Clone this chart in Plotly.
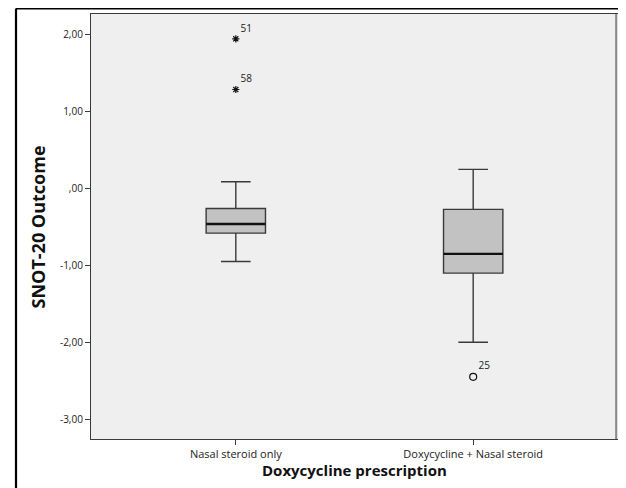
import plotly.graph_objects as go

# ---- data ----
categories = ["Nasal steroid only", "Doxycycline + Nasal steroid"]
q1_vals = [-0.58, -1.10]
median_vals = [-0.46, -0.85]
q3_vals = [-0.26, -0.27]
lower_whisker = [-0.95, -2.00]
upper_whisker = [0.09, 0.25]

extreme_x = ["Nasal steroid only", "Nasal steroid only"]
extreme_y = [1.95, 1.29]
extreme_lbl = ["51", "58"]

outlier_x = ["Doxycycline + Nasal steroid"]
outlier_y = [-2.45]
outlier_lbl = ["25"]

ytick_vals = [2, 1, 0, -1, -2, -3]
ytick_text = ["2,00", "1,00", ",00", "-1,00", "-2,00", "-3,00"]

BOX_FILL = "#c1c2c1"
LINE_COL = "#3a3a3a"
PLOT_BG = "#eeefee"
FONT = "Open Sans"

fig = go.Figure()

# boxes
fig.add_trace(go.Box(
    x=categories, q1=q1_vals, median=median_vals, q3=q3_vals,
    lowerfence=lower_whisker, upperfence=upper_whisker,
    boxpoints=False, width=0.25, whiskerwidth=0.5,
    fillcolor=BOX_FILL, line=dict(color=LINE_COL, width=1.4),
    hoverinfo="skip", showlegend=False,
))
# thicker median line (degenerate box at the median)
fig.add_trace(go.Box(
    x=categories, q1=median_vals, median=median_vals, q3=median_vals,
    lowerfence=median_vals, upperfence=median_vals,
    boxpoints=False, width=0.25, whiskerwidth=0,
    fillcolor="rgba(0,0,0,0)", line=dict(color="#111111", width=2.4),
    hoverinfo="skip", showlegend=False,
))

# extreme values (asterisks)
fig.add_trace(go.Scatter(
    x=extreme_x, y=extreme_y, mode="markers+text", text=extreme_lbl,
    textposition="top right",
    textfont=dict(family=FONT, size=10, color="#222222"),
    marker=dict(symbol="asterisk-open", size=6, color="#111111",
                line=dict(color="#111111", width=1.2)),
    showlegend=False, hoverinfo="skip", cliponaxis=False,
))
# outliers (circles)
fig.add_trace(go.Scatter(
    x=outlier_x, y=outlier_y, mode="markers+text", text=outlier_lbl,
    textposition="top right",
    textfont=dict(family=FONT, size=10, color="#222222"),
    marker=dict(symbol="circle-open", size=7, color="#111111",
                line=dict(color="#111111", width=1.2)),
    showlegend=False, hoverinfo="skip", cliponaxis=False,
))

fig.update_layout(
    width=618, height=480,
    margin=dict(l=83, r=8, t=6, b=49),
    paper_bgcolor="white", plot_bgcolor=PLOT_BG,
    font=dict(family=FONT, size=10, color="#222222"),
    showlegend=False,
    xaxis=dict(
        type="category", range=[-0.61, 1.61],
        showgrid=False, zeroline=False,
        showline=True, linecolor=LINE_COL, linewidth=1.2, mirror=True,
        ticks="outside", ticklen=5, tickcolor=LINE_COL, tickwidth=1.2,
        tickfont=dict(family=FONT, size=11, color="#222222"),
    ),
    yaxis=dict(
        range=[-3.26, 2.273],
        tickvals=ytick_vals, ticktext=ytick_text,
        showgrid=False, zeroline=False,
        showline=True, linecolor=LINE_COL, linewidth=1.2, mirror=True,
        ticks="outside", ticklen=5, tickcolor=LINE_COL, tickwidth=1.2,
        tickfont=dict(family=FONT, size=10, color="#222222"),
    ),
    annotations=[
        dict(text="<b>SNOT-20 Outcome</b>", x=-0.1006, y=0.5, xref="paper", yref="paper",
             textangle=-90, showarrow=False, xanchor="center", yanchor="middle",
             font=dict(family=FONT, size=18, color="#111111")),
        dict(text="<b>Doxycycline prescription</b>", x=0.5, y=-0.073, xref="paper", yref="paper",
             showarrow=False, xanchor="center", yanchor="middle",
             font=dict(family=FONT, size=15, color="#111111")),
    ],
    shapes=[
        # outer black frame
        dict(type="line", xref="paper", yref="paper", x0=-0.1423, x1=-0.1423, y0=-0.2, y1=1.0129,
             line=dict(color="black", width=2.2)),
        dict(type="line", xref="paper", yref="paper", x0=-0.1423, x1=1.0095, y0=1.0129, y1=1.0129,
             line=dict(color="black", width=2.2)),
        dict(type="line", xref="paper", yref="paper", x0=1.0095, x1=1.0095, y0=-0.2, y1=1.0129,
             line=dict(color="black", width=2.2)),
        # light shadow strip inside right edge of plot frame
        dict(type="line", xref="paper", yref="paper", x0=0.9965, x1=0.9965, y0=0, y1=1,
             line=dict(color="#8a8a8a", width=2)),
    ],
)

fig.write_html("out.html")
